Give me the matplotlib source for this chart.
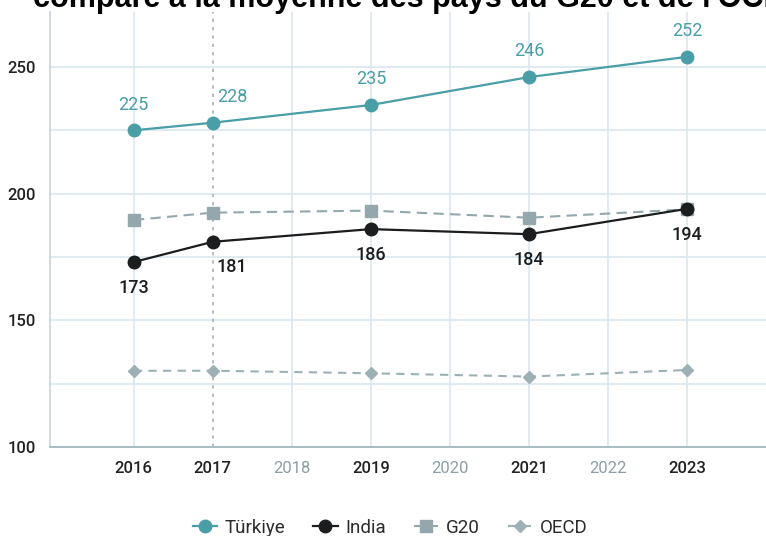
import matplotlib.pyplot as plt

years = [2016, 2017, 2019, 2021, 2023]
tick_years = [2016, 2017, 2018, 2019, 2020, 2021, 2022, 2023]
turkiye = [225, 228, 235, 246, 254]
turkiye_labels = ["225", "228", "235", "246", "252"]
india = [173, 181, 186, 184, 194]
india_labels = ["173", "181", "186", "184", "194"]
g20 = [189.6, 192.5, 193.3, 190.5, 193.8]
oecd = [130.1, 130.1, 129.1, 127.8, 130.4]

TEAL = "#4a9ea7"
DARK = "#1b1d1f"
G20_COL = "#93a7ad"
OECD_COL = "#9db0b5"
GRID = "#d9e7ee"

plt.rcParams['font.family'] = ['Roboto', 'DejaVu Sans']

fig = plt.figure(figsize=(7.66, 5.36), dpi=100)
ax = fig.add_axes([50 / 766, 89 / 536, 716 / 766, 435 / 536])

ax.set_xlim(2014.94, 2024.0)
ax.set_ylim(100, 271.7)

# grid
for y in range(125, 275, 25):
    ax.axhline(y, color=GRID, lw=1.2, zorder=0)
for x in tick_years:
    if x == 2017:
        ax.axvline(x, color="#a8b4b8", lw=1.2, ls=(0, (2, 3)), zorder=0)
    else:
        ax.axvline(x, color=GRID, lw=1.2, zorder=0)

ax.plot(years, oecd, color=OECD_COL, ls=(0, (4, 3)), lw=1.5, marker="D",
        ms=6, label="OECD", zorder=2)
ax.plot(years, g20, color=G20_COL, ls=(0, (5, 3)), lw=1.5, marker="s",
        ms=8, label="G20", zorder=2)
ax.plot(years, india, color=DARK, lw=1.6, marker="o", ms=9,
        label="India", zorder=3)
ax.plot(years, turkiye, color=TEAL, lw=1.6, marker="o", ms=9,
        label="Türkiye", zorder=3)

for i, (x, y) in enumerate(zip(years, turkiye)):
    dx = 14 if x == 2017 else 0
    ax.annotate(turkiye_labels[i], (x, y), xytext=(dx, 12), textcoords="offset points",
                ha="center", va="bottom", color=TEAL, fontsize=13)
for i, (x, y) in enumerate(zip(years, india)):
    dx = 14 if x == 2017 else 0
    ax.annotate(india_labels[i], (x, y), xytext=(dx, -12), textcoords="offset points",
                ha="center", va="top", color=DARK, fontsize=13, fontweight="medium")

ax.set_yticks([100, 150, 200, 250])
ax.set_xticks(tick_years)
ax.tick_params(length=0, labelsize=12, colors="#222222", pad=10)
ax.tick_params(axis="y", pad=10)
for lab in ax.get_xticklabels() + ax.get_yticklabels():
    lab.set_fontweight("medium")
for lab in ax.get_xticklabels():
    if lab.get_text() in ("2018", "2020", "2022"):
        lab.set_color("#8d9ea5")
        lab.set_fontweight("normal")

for s in ["top", "right"]:
    ax.spines[s].set_visible(False)
ax.spines["left"].set_color("#c3d6de")
ax.spines["bottom"].set_color("#a7bcc5")
ax.spines["left"].set_linewidth(1.2)
ax.spines["bottom"].set_linewidth(1.4)

h, l = ax.get_legend_handles_labels()
order = [3, 2, 1, 0]
leg = fig.legend([h[i] for i in order], [l[i] for i in order], loc="center",
                 bbox_to_anchor=(390 / 766, 8 / 536), ncol=4, frameon=False,
                 fontsize=13.5, handlelength=1.3, columnspacing=1.5, handletextpad=0.4,
                 borderpad=0, borderaxespad=0)
for t in leg.get_texts():
    t.set_color("#2b2b2b")

fig.text(33 / 766, 1 - 7 / 536, "comparé à la moyenne des pays du G20 et de l'OCDE",
         fontsize=22, fontweight="bold", ha="left", va="baseline",
         family=["Liberation Sans", "DejaVu Sans"])

fig.savefig("out.png", dpi=100)
